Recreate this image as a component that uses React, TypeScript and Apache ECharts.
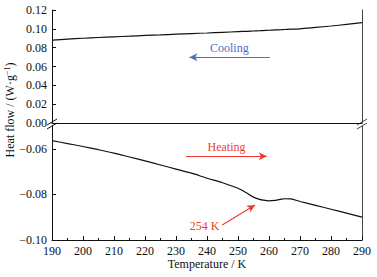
import React, { useEffect, useRef } from "react";
import * as echarts from "echarts";

const temps = [190, 195, 200, 205, 210, 215, 220, 225, 230, 235, 240, 245, 250, 253, 255, 257, 258, 260, 262, 264, 265, 267, 270, 275, 280, 285, 290];
const cooling = [0.088, 0.089, 0.090, 0.0908, 0.0915, 0.0922, 0.093, 0.0936, 0.0943, 0.095, 0.0956, 0.0963, 0.097, 0.0974, 0.0977, 0.098, 0.0982, 0.0985, 0.0988, 0.0991, 0.0993, 0.0996, 0.1, 0.1015, 0.103, 0.1047, 0.1065];
const heating = [-0.0564, -0.0577, -0.059, -0.0604, -0.0619, -0.0636, -0.0653, -0.0671, -0.0689, -0.0707, -0.0729, -0.0749, -0.0773, -0.0795, -0.0812, -0.0822, -0.0825, -0.0828, -0.0826, -0.0821, -0.0819, -0.082, -0.0831, -0.0848, -0.0865, -0.0882, -0.09];
const topTicks = [0, 0.02, 0.04, 0.06, 0.08, 0.1, 0.12];
const bottomTicks = [-0.1, -0.08, -0.06];
const xTicks = [190, 200, 210, 220, 230, 240, 250, 260, 270, 280, 290];

const FONT = "Liberation Serif";
const RED = "#ee3b36";
const BLUE = "#4b6fc2";

export default function App() {
  const ref = useRef<HTMLDivElement>(null);
  useEffect(() => {
    if (!ref.current) return;
    const chart = echarts.init(ref.current, undefined, { renderer: "svg" });
    const axisLabel = { fontFamily: FONT, fontSize: 12, color: "#111" };
    const lineStyle = { color: "#111", width: 1 };
    const coolingData = temps.map((t, i) => [t, cooling[i]]);
    const heatingData = temps.map((t, i) => [t, heating[i]]);
    chart.setOption({
      animation: false,
      grid: [
        { left: 52, right: 15, top: 10, height: 113 },
        { left: 52, right: 15, top: 126, bottom: 37 },
      ],
      xAxis: [
        {
          gridIndex: 0, type: "value", min: 190, max: 290, interval: 10, position: "top",
          axisLine: { show: true, lineStyle }, axisTick: { show: false }, axisLabel: { show: false },
          splitLine: { show: false },
        },
        {
          gridIndex: 1, type: "value", min: 190, max: 290, interval: 10,
          axisLine: { show: true, onZero: false, lineStyle },
          axisTick: { show: true, inside: true, length: 4, lineStyle },
          minorTick: { show: true, splitNumber: 2, length: 2, lineStyle },
          axisLabel: { ...axisLabel, margin: 5, customValues: xTicks },
          splitLine: { show: false },
          name: "Temperature / K", nameLocation: "middle", nameGap: 18,
          nameTextStyle: { fontFamily: FONT, fontSize: 12, color: "#111" },
        },
      ],
      yAxis: [
        {
          gridIndex: 0, type: "value", min: 0, max: 0.12, interval: 0.02,
          axisLine: { show: true, onZero: false, lineStyle },
          axisTick: { show: true, inside: true, length: 4, lineStyle },
          axisLabel: { ...axisLabel, margin: 5, formatter: (v: number) => v.toFixed(2) , customValues: topTicks },
          splitLine: { show: false },
        },
        {
          gridIndex: 1, type: "value", min: -0.1, max: -0.05, interval: 0.02,
          axisLine: { show: true, onZero: false, lineStyle },
          axisTick: { show: true, inside: true, length: 4, lineStyle, customValues: bottomTicks },
          axisLabel: { ...axisLabel, margin: 5, formatter: (v: number) => "\u2212" + Math.abs(v).toFixed(2), customValues: bottomTicks },
          splitLine: { show: false },
        },
        {
          gridIndex: 0, type: "value", min: 0, max: 0.12, position: "right",
          axisLine: { show: true, onZero: false, lineStyle: { color: "#444", width: 1 } },
          axisTick: { show: false }, axisLabel: { show: false }, splitLine: { show: false },
        },
        {
          gridIndex: 1, type: "value", min: -0.1, max: -0.05, position: "right",
          axisLine: { show: true, onZero: false, lineStyle: { color: "#444", width: 1 } },
          axisTick: { show: false }, axisLabel: { show: false }, splitLine: { show: false },
        },
      ],
      series: [
        {
          type: "line", xAxisIndex: 0, yAxisIndex: 0, data: coolingData, showSymbol: false, smooth: 0.3,
          lineStyle: { color: "#111", width: 1.2 },
          markLine: {
            silent: true, symbol: ["none", "arrow"], symbolSize: [6, 8],
            lineStyle: { color: BLUE, width: 1.2, type: "solid" }, label: { show: false },
            data: [[{ coord: [260.3, 0.0698] }, { coord: [234.3, 0.0698] }]],
          },
          markPoint: {
            silent: true, symbol: "rect", symbolSize: 0,
            label: { show: true, position: "inside", formatter: "Cooling", color: BLUE, fontFamily: FONT, fontSize: 12 },
            data: [{ coord: [247.2, 0.0793] }],
          },
        },
        {
          type: "line", xAxisIndex: 1, yAxisIndex: 1, data: heatingData, showSymbol: false, smooth: 0.3,
          lineStyle: { color: "#111", width: 1.2 },
          markLine: {
            silent: true, symbol: ["none", "arrow"], symbolSize: [6, 8],
            lineStyle: { color: RED, width: 1.2, type: "solid" }, label: { show: false },
            data: [
              [{ coord: [233.2, -0.0633] }, { coord: [259.3, -0.0633] }],
              [{ coord: [244.9, -0.0934] }, { coord: [255.5, -0.0846] }],
            ],
          },
          markPoint: {
            silent: true, symbol: "rect", symbolSize: 0,
            label: { show: true, position: "inside", color: RED, fontFamily: FONT, fontSize: 12 },
            data: [
              { coord: [246.3, -0.0591], label: { formatter: "Heating" } },
              { coord: [239.2, -0.0938], label: { formatter: "254 K" } },
            ],
          },
        },
      ],
      graphic: [
        {
          type: "text", x: 10, y: 110, rotation: Math.PI / 2,
          style: {
            text: "Heat flow / (W\u00b7g{sup|\u22121})", fill: "#111", font: `12px "${FONT}"`,
            align: "center", verticalAlign: "middle",
            rich: { sup: { fontSize: 8, fontFamily: FONT, verticalAlign: "top", padding: [0, 0, 6, 0] } },
          },
        },
        { type: "line", shape: { x1: 47, y1: 125, x2: 57, y2: 119 }, style: { stroke: "#111", lineWidth: 1 } },
        { type: "line", shape: { x1: 47, y1: 129, x2: 57, y2: 123 }, style: { stroke: "#111", lineWidth: 1 } },
        { type: "line", shape: { x1: 357, y1: 125, x2: 367, y2: 119 }, style: { stroke: "#444", lineWidth: 1 } },
        { type: "line", shape: { x1: 357, y1: 129, x2: 367, y2: 123 }, style: { stroke: "#444", lineWidth: 1 } },
      ],
    });
    return () => chart.dispose();
  }, []);
  return <div ref={ref} style={{ width: 377, height: 277, position: "absolute", left: 0, top: 0, background: "#fff" }} />;
}
